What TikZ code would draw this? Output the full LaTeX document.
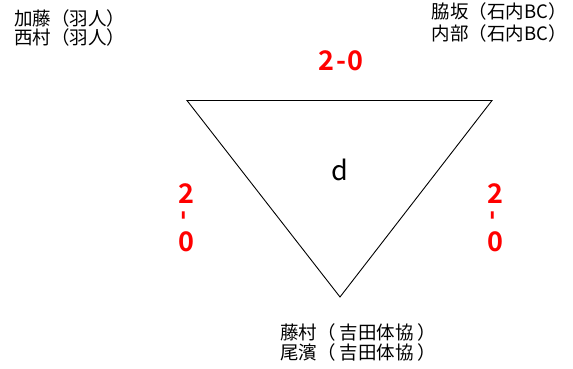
\documentclass[tikz,border=0pt]{standalone}
\usepackage{fontspec}
\setmainfont{Noto Sans CJK JP}
\newfontfamily\cjk{Noto Sans CJK JP}
\newfontfamily\cjkbold{Noto Sans CJK JP Bold}
\begin{document}
\begin{tikzpicture}[x=1pt,y=-1pt,
  teamname/.style={anchor=base west,inner sep=0pt,font=\cjk\fontsize{18.5}{20}\selectfont},
  scoretext/.style={anchor=base,inner sep=0pt,text=red,font=\cjkbold\fontsize{27}{30}\selectfont},
  vdashtext/.style={anchor=center,inner sep=0pt,text=red,font=\cjkbold\fontsize{27}{30}\selectfont},
  centrelabel/.style={anchor=base,inner sep=0pt,font=\cjk\fontsize{27}{30}\selectfont},
  triedge/.style={draw=black,line width=0.9pt,line join=miter}]
\useasboundingbox (0,0) rectangle (573,369);
\fill[white] (0,0) rectangle (573,369);
% triangle
\coordinate (A) at (187,100.5);
\coordinate (B) at (492,100.5);
\coordinate (C) at (340,297);
\draw[triedge] (A) -- (B) -- (C) -- cycle;
% team names
\node[teamname] (tl1) at (14,25.5) {加藤（羽人）};
\node[teamname] (tl2) at (14,44.5) {西村（羽人）};
\node[teamname] (tr1) at (431.5,18.5) {脇坂（石内BC）};
\node[teamname] (tr2) at (431.5,40.5) {内部（石内BC）};
\node[teamname] (b1) at (280,339) {藤村（ 吉田体協 ）};
\node[teamname] (b2) at (280,359) {尾濱（ 吉田体協 ）};
% scores
\node[scoretext] (stop) at (341,70.5) {2\kern2pt-\kern2pt0};
\node[scoretext] (sl2) at (186,203) {2};
\node[vdashtext] (sld) at (186.5,216) {\rotatebox{90}{-}};
\node[scoretext] (sl0) at (186,251) {0};
\node[scoretext] (sr2) at (495,203) {2};
\node[vdashtext] (srd) at (495.5,216) {\rotatebox{90}{-}};
\node[scoretext] (sr0) at (495,251) {0};
% centre label
\node[centrelabel] (d) at (339.5,180) {d};
\end{tikzpicture}
\end{document}
